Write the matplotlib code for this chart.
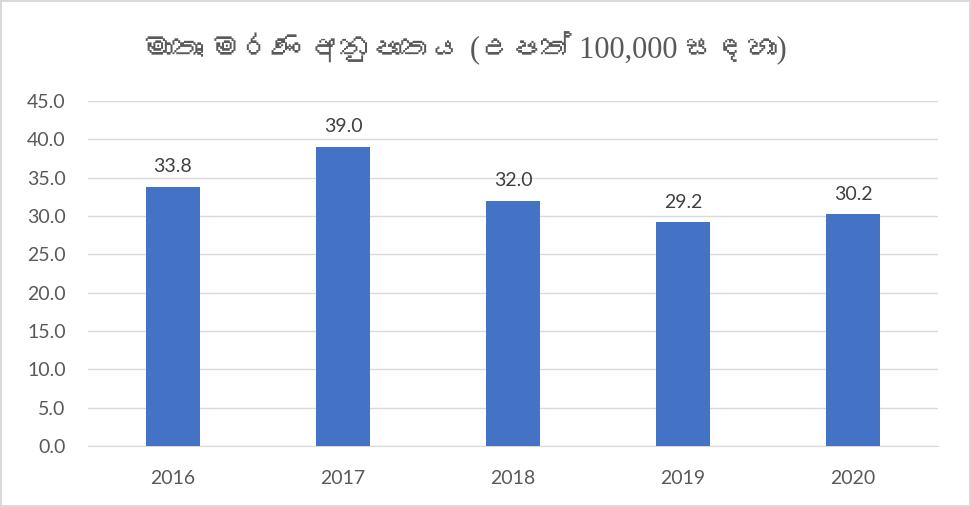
import matplotlib
matplotlib.use("Agg")
import matplotlib.pyplot as plt
from matplotlib import font_manager
from matplotlib.ft2font import FT2Font

years = ["2016", "2017", "2018", "2019", "2020"]
ratio = [33.8, 39.0, 32.0, 29.2, 30.2]
title = "මාතෘ මරණ අනුපාතය (උපත් 100,000 සඳහා)"


def find_sinhala_font():
    # look for any installed font that covers the Sinhala block
    for f in font_manager.fontManager.ttflist:
        try:
            cmap = FT2Font(f.fname).get_charmap()
        except Exception:
            continue
        if 0x0DB8 in cmap and 0x0DCF in cmap:
            return f.name
    return None


sinhala = find_sinhala_font()
title_fonts = ["Liberation Serif", "DejaVu Serif"]
if sinhala:
    title_fonts = ["Liberation Serif", sinhala, "DejaVu Sans"]

plt.rcParams["font.family"] = ["Lato", "DejaVu Sans"]

fig = plt.figure(figsize=(9.71, 5.07), dpi=100)
fig.patch.set_edgecolor("#d9d9d9")
fig.patch.set_linewidth(1.5)
ax = fig.add_axes([88 / 971, 1 - 446 / 507, 850 / 971, 345 / 507])

x = range(len(years))
bars = ax.bar(x, ratio, width=0.32, color="#4472C4", zorder=3)
for b, v in zip(bars, ratio):
    ax.text(b.get_x() + b.get_width() / 2, v + 1.5, f"{v:.1f}",
            ha="center", va="bottom", fontsize=14, color="#404040")

ax.set_xlim(-0.5, len(years) - 0.5)
ax.set_ylim(0, 45)
ax.set_yticks([i * 5 for i in range(10)])
ax.set_yticklabels([f"{i * 5:.1f}" for i in range(10)])
ax.set_xticks(list(x))
ax.set_xticklabels(years)
ax.tick_params(length=0, labelsize=14, colors="#595959")
ax.tick_params(axis="x", pad=17)
ax.tick_params(axis="y", pad=16)
ax.grid(axis="y", color="#d9d9d9", linewidth=1, zorder=0)
for s in ["top", "right", "left"]:
    ax.spines[s].set_visible(False)
ax.spines["bottom"].set_color("#d9d9d9")

fig.text(464 / 971, 1 - 48 / 507, title, ha="center", va="center",
         fontsize=22, color="#595959", family=title_fonts)

fig.savefig("out.png", dpi=100, edgecolor=fig.get_edgecolor())
